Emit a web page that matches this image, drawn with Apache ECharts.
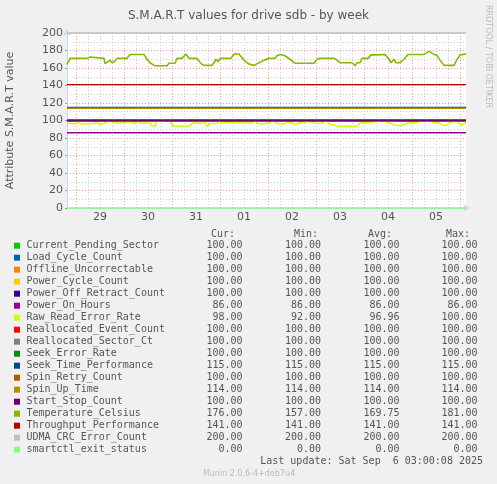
<!DOCTYPE html>
<html>
<head>
<meta charset="utf-8">
<script src="https://cdn.jsdelivr.net/npm/echarts@6/dist/echarts.min.js"></script>
<style>
html, body { margin: 0; padding: 0; background: #f0f0f0; }
#chart { width: 497px; height: 484px; }
</style>
</head>
<body>
<div id="chart"></div>
<script>
// attribute names, munin colours and the legend numbers
var NAMES = ['Current_Pending_Sector', 'Load_Cycle_Count', 'Offline_Uncorrectable', 'Power_Cycle_Count',
	'Power_Off_Retract_Count', 'Power_On_Hours', 'Raw_Read_Error_Rate', 'Reallocated_Event_Count',
	'Reallocated_Sector_Ct', 'Seek_Error_Rate', 'Seek_Time_Performance', 'Spin_Retry_Count',
	'Spin_Up_Time', 'Start_Stop_Count', 'Temperature_Celsius', 'Throughput_Performance',
	'UDMA_CRC_Error_Count', 'smartctl_exit_status'];
var COLORS = ['#00cc00', '#0066b3', '#ff8000', '#ffcc00', '#330099', '#990099', '#ccff00', '#ff0000',
	'#808080', '#008f00', '#00487d', '#b35a00', '#b38f00', '#6b006b', '#8fb300', '#b30000',
	'#bebebe', '#80ff80'];
var CUR = [100, 100, 100, 100, 100, 86, 98, 100, 100, 100, 115, 100, 114, 100, 176, 141, 200, 0];
var MIN = [100, 100, 100, 100, 100, 86, 92, 100, 100, 100, 115, 100, 114, 100, 157, 141, 200, 0];
var AVG = [100, 100, 100, 100, 100, 86, 96.96, 100, 100, 100, 115, 100, 114, 100, 169.75, 141, 200, 0];
var MAX = [100, 100, 100, 100, 100, 86, 100, 100, 100, 100, 115, 100, 114, 100, 181, 141, 200, 0];

// x axis: half hour slots, first slot is Aug 28 19:30, last is Sep 6 03:00
var SLOT_COUNT = 400;
var FIRST_SLOT_OF_DAY = 39;
var DAY_LABELS = ['29', '30', '31', '01', '02', '03', '04', '05'];

// Temperature_Celsius (slot, value)
var TEMP_SLOTS = [0, 3, 17, 18, 20, 23, 25, 37, 38, 40, 43, 45, 48, 50, 60, 63, 77, 80, 83, 88,
	100, 102, 108, 110, 115, 119, 122, 130, 134, 137, 145, 147, 149, 151, 153, 164, 167, 172, 177, 182,
	187, 192, 197, 202, 208, 210, 213, 218, 223, 228, 247, 250, 253, 267, 270, 273, 275, 278, 285, 288,
	290, 293, 295, 301, 304, 308, 310, 318, 322, 324, 327, 329, 333, 337, 341, 357, 359, 362, 364, 367,
	370, 373, 377, 387, 390, 393, 395, 399];
var TEMP_VALUES = [164, 171, 171, 172.5, 171, 172.5, 171, 171, 165, 165, 169, 166, 168, 171, 171, 175.5, 175.5, 170, 166, 162.5,
	162.5, 165.5, 165.5, 171, 171, 176, 171, 171, 165, 163, 163, 166, 170, 167, 171, 171, 176, 176, 169, 164.5,
	163, 166, 169, 171, 171, 174, 175.5, 174, 170, 165.5, 165.5, 170, 171, 171, 169, 166, 164, 166, 166, 162.5,
	166, 166, 171, 171, 175, 175, 175.5, 175.5, 170, 166, 170, 166, 166, 170, 175.5, 175.5, 177, 179, 177, 175.5,
	174.5, 169, 163, 163, 169.5, 175, 176, 176];

// Raw_Read_Error_Rate (slot, value)
var RAW_SLOTS = [0, 3, 8, 12, 14, 22, 24, 31, 33, 35, 42, 44, 51, 53, 57, 62, 64, 68, 71, 73,
	79, 82, 84, 88, 90, 103, 106, 110, 119, 122, 127, 135, 137, 140, 143, 150, 152, 155, 180, 183,
	188, 192, 194, 198, 203, 207, 210, 217, 220, 225, 228, 233, 240, 243, 248, 255, 259, 263, 268, 272,
	290, 293, 303, 308, 318, 322, 327, 333, 337, 342, 350, 353, 363, 367, 372, 375, 380, 383, 388, 392,
	395, 398, 399];
var RAW_VALUES = [96, 97, 96, 98.6, 96, 96, 97.5, 97.5, 95, 96.5, 99, 97, 97, 95, 97.5, 98.5, 96.5, 96.5, 99.4, 97,
	97, 99.8, 95, 93, 99.4, 99.4, 94, 93.3, 93.3, 94, 97.5, 96.7, 99.4, 93.3, 96.5, 96.7, 99.4, 97.5, 97.5, 96.5,
	99.4, 96, 98, 96.7, 97.5, 99.4, 96.7, 96, 97.5, 97.5, 95.5, 97.5, 98.6, 98.6, 97, 96.7, 99.8, 95.5, 94.5, 93.3,
	93.3, 97.5, 97.5, 99, 99, 97.5, 94.8, 94.1, 95.5, 97.5, 97.5, 99.4, 99.4, 97.5, 97.5, 94.8, 94.8, 97.5, 99.4, 96.7,
	94.8, 97, 98];

(function() {
	var TEXT = '#555';
	var MONO = '10px "DejaVu Sans Mono"';

	var slots = [];
	for (var i = 0; i < SLOT_COUNT; i++) slots.push(String(i));

	function pairs(xs, ys) {
		return xs.map(function(x, k) { return [x, ys[k]]; });
	}

	var series = NAMES.map(function(name, k) {
		var data, width = 1.3;
		if (name === 'Temperature_Celsius') { data = pairs(TEMP_SLOTS, TEMP_VALUES); width = 1.6; }
		else if (name === 'Raw_Read_Error_Rate') { data = pairs(RAW_SLOTS, RAW_VALUES); width = 1.5; }
		else data = [[0, CUR[k]], [SLOT_COUNT - 1, CUR[k]]];
		return {
			name: name,
			type: 'line',
			data: data,
			symbol: 'none',
			clip: false,
			animation: false,
			lineStyle: { color: COLORS[k], width: width },
			emphasis: { disabled: true }
		};
	});

	// legend table below the plot
	var graphic = [];
	var headers = [['Cur:', 235], ['Min:', 318], ['Avg:', 392], ['Max:', 470]];
	headers.forEach(function(h) {
		graphic.push({ type: 'text', style: { text: h[0], x: h[1], y: 234, align: 'right', verticalAlign: 'middle', font: MONO, fill: TEXT } });
	});
	var cols = [[CUR, 242.5], [MIN, 321], [AVG, 399.5], [MAX, 477.5]];
	NAMES.forEach(function(name, k) {
		var y = 245.7 + 12 * k;
		graphic.push({ type: 'rect', shape: { x: 14, y: y - 3, width: 6, height: 6 }, style: { fill: COLORS[k] } });
		graphic.push({ type: 'text', style: { text: name, x: 26.5, y: y, verticalAlign: 'middle', font: MONO, fill: TEXT } });
		cols.forEach(function(c) {
			graphic.push({ type: 'text', style: { text: c[0][k].toFixed(2), x: c[1], y: y, align: 'right', verticalAlign: 'middle', font: MONO, fill: TEXT } });
		});
	});
	graphic.push({ type: 'text', style: { text: 'Last update: Sat Sep  6 03:00:08 2025', x: 483, y: 461.7, align: 'right', verticalAlign: 'middle', font: MONO, fill: TEXT } });
	graphic.push({ type: 'text', style: { text: 'Munin 2.0.6-4+deb7u4', x: 249, y: 473.5, align: 'center', verticalAlign: 'middle', font: '8px "DejaVu Sans"', fill: '#bbb' } });
	graphic.push({ type: 'text', x: 488, y: 56.5, rotation: -Math.PI / 2, style: { text: 'RRDTOOL / TOBI OETIKER', align: 'center', verticalAlign: 'middle', font: '8px "DejaVu Sans"', fill: '#bbb' } });

	var option = {
		backgroundColor: '#f0f0f0',
		animation: false,
		title: {
			text: 'S.M.A.R.T values for drive sdb - by week',
			left: 'center',
			top: 5,
			textStyle: { fontFamily: 'DejaVu Sans', fontSize: 12, fontWeight: 'normal', color: TEXT }
		},
		grid: { left: 67, top: 33, width: 399, height: 175, show: true, backgroundColor: '#fff', borderWidth: 0, outerBoundsMode: 'none', containLabel: false },
		xAxis: [{
			type: 'category',
			data: slots,
			boundaryGap: false,
			axisLine: { show: true, lineStyle: { color: '#cfd6f8', width: 1 }, symbol: ['none', 'arrow'], symbolSize: [6, 7], symbolOffset: [0, 4] },
			axisTick: { show: false },
			axisLabel: {
				interval: function(i) { return (FIRST_SLOT_OF_DAY + i) % 48 === 24; },
				formatter: function(v, i) { return DAY_LABELS[Math.floor((FIRST_SLOT_OF_DAY + i) / 48) - 1]; },
				fontFamily: 'DejaVu Sans', fontSize: 11, color: TEXT, margin: 4
			},
			splitLine: {
				show: true,
				interval: function(i) { var h = FIRST_SLOT_OF_DAY + i; return h % 12 === 0 && h % 48 !== 0; },
				lineStyle: { color: '#cccccc', width: 1, type: [1, 2] }
			}
		}, {
			type: 'category',
			data: slots,
			boundaryGap: false,
			position: 'top',
			axisLine: { show: false },
			axisTick: { show: false },
			axisLabel: { show: false },
			splitLine: {
				show: true,
				interval: function(i) { return (FIRST_SLOT_OF_DAY + i) % 48 === 0; },
				lineStyle: { color: '#f09a9a', width: 1, type: [1, 2] }
			}
		}],
		yAxis: {
			type: 'value',
			min: 0,
			max: 200,
			interval: 20,
			name: 'Attribute S.M.A.R.T value',
			nameLocation: 'middle',
			nameGap: 51,
			nameTextStyle: { fontFamily: 'DejaVu Sans', fontSize: 11, color: TEXT },
			axisLine: { show: true, lineStyle: { color: '#cfd6f8', width: 1 }, symbol: ['none', 'arrow'], symbolSize: [6, 7], symbolOffset: [0, 4] },
			axisTick: { show: true, length: 2, lineStyle: { color: '#999' } },
			axisLabel: { fontFamily: 'DejaVu Sans', fontSize: 11, color: TEXT, margin: 4 },
			splitLine: { show: true, lineStyle: { color: '#f09a9a', width: 1, type: [1, 2] } },
			minorTick: { show: false, splitNumber: 2 },
			minorSplitLine: { show: true, lineStyle: { color: '#cccccc', width: 1, type: [1, 2] } }
		},
		graphic: graphic,
		series: series
	};

	var myChart = echarts.init(document.getElementById('chart'));
	myChart.setOption(option);
})();
</script>
</body>
</html>
